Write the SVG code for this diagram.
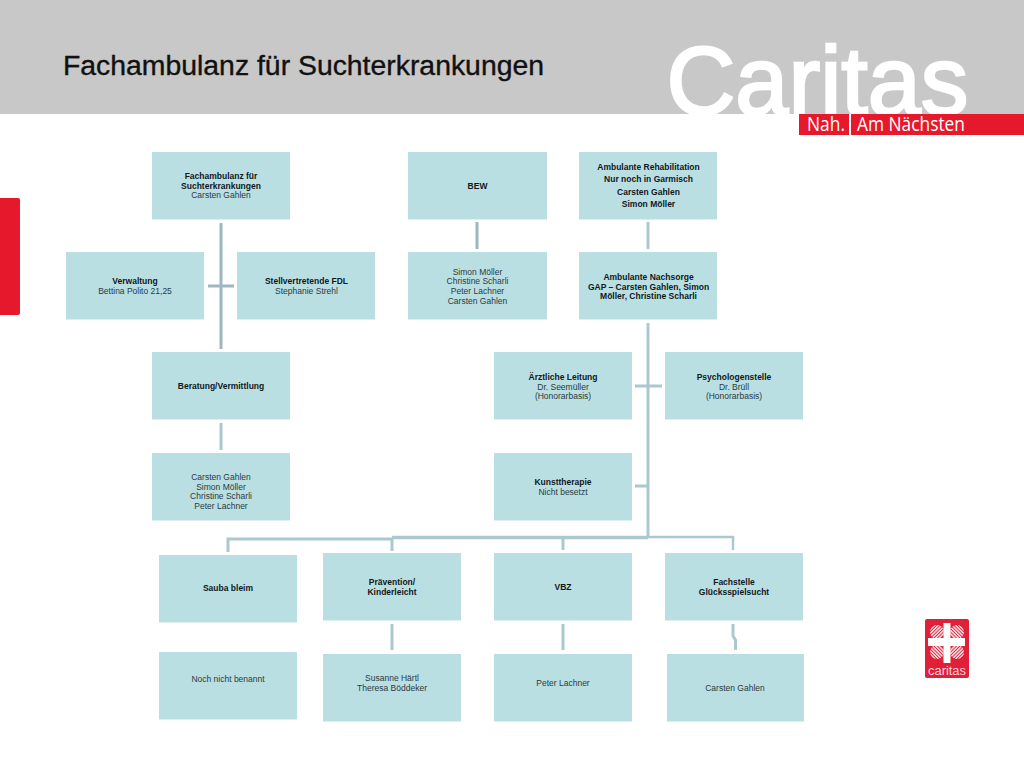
<svg xmlns="http://www.w3.org/2000/svg" width="1024" height="768" viewBox="0 0 1024 768">
<style>
text{font-family:"Liberation Sans",Arial,sans-serif}
.b{fill:#badfe3}
.t{font-size:8.500px;fill:#2a3a40;text-anchor:middle}
.h{font-weight:bold;fill:#10181c}
.c{fill:none;stroke:#a9c9cf;stroke-width:3}
.d{fill:none;stroke:#9db8c0;stroke-width:3}
.w{font-size:20px;fill:#fff;font-family:"Open Sans",sans-serif}
</style>
<defs>
<pattern id="s1" width="2.400" height="2.400" patternUnits="userSpaceOnUse" patternTransform="rotate(45)"><rect width="2.400" height="2.400" fill="#fbe3e6"/><rect width="2.400" height="0.900" fill="#e01f38"/></pattern>
<pattern id="s2" width="2.400" height="2.400" patternUnits="userSpaceOnUse" patternTransform="rotate(-45)"><rect width="2.400" height="2.400" fill="#fbe3e6"/><rect width="2.400" height="0.900" fill="#e01f38"/></pattern>
</defs>
<rect id="header" width="1024" height="114" fill="#c8c8c8"/>
<text id="title" x="63" y="75" font-size="27" fill="#111" stroke="#111" stroke-width="0.350" textLength="481" lengthAdjust="spacingAndGlyphs">Fachambulanz für Suchterkrankungen</text>
<g id="logo">
<text x="666.500" y="114" font-size="97" fill="#fff" stroke="#fff" stroke-width="2.500" textLength="302" lengthAdjust="spacingAndGlyphs">Caritas</text>
<rect x="799" y="114" width="225" height="21" fill="#e6192c"/>
<rect x="849" y="114" width="2" height="21" fill="#fff"/>
<text class="w" x="807" y="131" textLength="38" lengthAdjust="spacingAndGlyphs">Nah.</text>
<text class="w" x="857" y="131" textLength="108" lengthAdjust="spacingAndGlyphs">Am Nächsten</text>
</g>
<path id="tab" d="M0 198H18a2 2 0 0 1 2 2V313a2 2 0 0 1-2 2H0Z" fill="#e6192c"/>
<g id="connectors">
<path class="d" d="M221 223V349M208 286H234M477 222V249"/>
<path class="c" d="M221 423V450M648 222V249M648 323V538M635 386H662M635 486H648"/>
<path class="c" d="M228 552V539H392M392 551V538M563 538V550M392 624V650M563 624V650M733 624V636L735.500 640V650"/>
<path class="c" style="stroke-width:3.500" d="M392 537.500H648"/>
<path class="c" style="stroke-width:2.500" d="M648 537H733V550"/>
</g>
<g id="n1"><rect class="b" x="152" y="152" width="138" height="67.500"/><text class="t" x="221" y="179"><tspan class="h">Fachambulanz für</tspan><tspan class="h" x="221" dy="9.700">Suchterkrankungen</tspan><tspan x="221" dy="9.700">Carsten Gahlen</tspan></text></g>
<g id="n2"><rect class="b" x="408" y="152" width="139" height="67.500"/><text class="t h" x="477.500" y="189">BEW</text></g>
<g id="n3"><rect class="b" x="579" y="152" width="138" height="67.500"/><text class="t h" x="648.500" y="170">Ambulante Rehabilitation<tspan x="648.500" dy="12.300">Nur noch in Garmisch</tspan><tspan x="648.500" dy="12.300">Carsten Gahlen</tspan><tspan x="648.500" dy="12.300">Simon Möller</tspan></text></g>
<g id="n4"><rect class="b" x="66" y="252" width="138" height="67.500"/><text class="t" x="135" y="284"><tspan class="h">Verwaltung</tspan><tspan x="135" dy="9.700">Bettina Polito 21,25</tspan></text></g>
<g id="n5"><rect class="b" x="237" y="252" width="138" height="67.500"/><text class="t" x="306.500" y="284"><tspan class="h">Stellvertretende FDL</tspan><tspan x="306.500" dy="9.700">Stephanie Strehl</tspan></text></g>
<g id="n6"><rect class="b" x="408" y="252" width="139" height="67.500"/><text class="t" x="477.500" y="274.500">Simon Möller<tspan x="477.500" dy="9.700">Christine Scharli</tspan><tspan x="477.500" dy="9.700">Peter Lachner</tspan><tspan x="477.500" dy="9.700">Carsten Gahlen</tspan></text></g>
<g id="n7"><rect class="b" x="579" y="252" width="138" height="67.500"/><text class="t h" x="648.500" y="280">Ambulante Nachsorge<tspan x="648.500" dy="9.700">GAP – Carsten Gahlen, Simon</tspan><tspan x="648.500" dy="9.700">Möller, Christine Scharli</tspan></text></g>
<g id="n8"><rect class="b" x="152" y="352" width="138" height="67.500"/><text class="t h" x="221" y="389">Beratung/Vermittlung</text></g>
<g id="n9"><rect class="b" x="494" y="352" width="138" height="67.500"/><text class="t" x="563" y="380"><tspan class="h">Ärztliche Leitung</tspan><tspan x="563" dy="9.700">Dr. Seemüller</tspan><tspan x="563" dy="9.700">(Honorarbasis)</tspan></text></g>
<g id="n10"><rect class="b" x="665" y="352" width="138" height="67.500"/><text class="t" x="734" y="380"><tspan class="h">Psychologenstelle</tspan><tspan x="734" dy="9.700">Dr. Brüll</tspan><tspan x="734" dy="9.700">(Honorarbasis)</tspan></text></g>
<g id="n11"><rect class="b" x="152" y="453" width="138" height="67.500"/><text class="t" x="221" y="480">Carsten Gahlen<tspan x="221" dy="9.700">Simon Möller</tspan><tspan x="221" dy="9.700">Christine Scharli</tspan><tspan x="221" dy="9.700">Peter Lachner</tspan></text></g>
<g id="n12"><rect class="b" x="494" y="453" width="138" height="67.500"/><text class="t" x="563" y="485"><tspan class="h">Kunsttherapie</tspan><tspan x="563" dy="9.700">Nicht besetzt</tspan></text></g>
<g id="n13"><rect class="b" x="159" y="555" width="138" height="67.500"/><text class="t h" x="228" y="591">Sauba bleim</text></g>
<g id="n14"><rect class="b" x="323" y="553" width="138" height="67.500"/><text class="t h" x="392" y="585">Prävention/<tspan x="392" dy="9.700">Kinderleicht</tspan></text></g>
<g id="n15"><rect class="b" x="494" y="553" width="138" height="67.500"/><text class="t h" x="563" y="590">VBZ</text></g>
<g id="n16"><rect class="b" x="665" y="553" width="138" height="67.500"/><text class="t h" x="734" y="585">Fachstelle<tspan x="734" dy="9.700">Glücksspielsucht</tspan></text></g>
<g id="n17"><rect class="b" x="159" y="652" width="138" height="67.500"/><text class="t" x="228" y="682">Noch nicht benannt</text></g>
<g id="n18"><rect class="b" x="323" y="654" width="138" height="67.500"/><text class="t" x="392" y="681">Susanne Härtl<tspan x="392" dy="9.700">Theresa Böddeker</tspan></text></g>
<g id="n19"><rect class="b" x="494" y="654" width="138" height="67.500"/><text class="t" x="563" y="686">Peter Lachner</text></g>
<g id="n20"><rect class="b" x="667" y="654" width="137" height="67.500"/><text class="t" x="735" y="691">Carsten Gahlen</text></g>
<g id="caritas-mark">
<rect x="925" y="619" width="44" height="59" rx="2" fill="#e01f38"/>
<circle cx="937" cy="632" r="7" fill="url(#s2)"/><circle cx="957" cy="632" r="7" fill="url(#s1)"/><circle cx="937" cy="652" r="7" fill="url(#s1)"/><circle cx="957" cy="652" r="7" fill="url(#s2)"/>
<path d="M943.500 623H950.500V638H965V646H950.500V663H943.500V646H928V638H943.500Z" fill="#fff"/>
<text x="947" y="675" font-size="12" fill="#f9d5da" text-anchor="middle" textLength="38" lengthAdjust="spacingAndGlyphs">caritas</text>
</g>
</svg>
